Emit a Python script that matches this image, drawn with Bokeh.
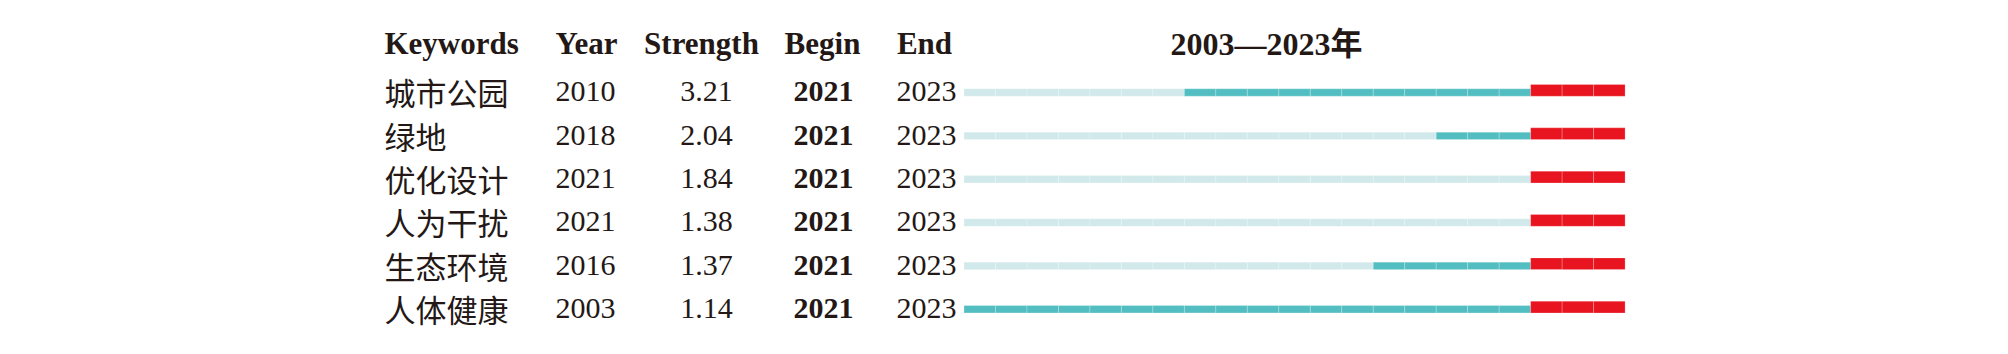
from bokeh.plotting import figure
from bokeh.models import Range1d, ColumnDataSource
from bokeh.core.properties import value
from bokeh.embed import file_html
from bokeh.resources import INLINE

# ---------------- data ----------------
keywords = ["城市公园", "绿地", "优化设计", "人为干扰", "生态环境", "人体健康"]
first_year = [2010, 2018, 2021, 2021, 2016, 2003]
strength = [3.21, 2.04, 1.84, 1.38, 1.37, 1.14]
begin = [2021, 2021, 2021, 2021, 2021, 2021]
end = [2023, 2023, 2023, 2023, 2023, 2023]
span_start, span_end = 2003, 2023
headers = ["Keywords", "Year", "Strength", "Begin", "End"]
title = "2003—2023年"

# ---------------- layout constants ----------------
W, H = 2008, 354
row_step = 43.35          # px between rows
base0 = 102.3             # baseline of first row (px from top)
header_base = 54.3
bar_x0 = 963.5            # px where first year cell starts
cell_w = 31.48            # px per year
text_shift = -11.0 / row_step   # compensate renderer baseline placement

col_kw, col_year, col_str, col_beg, col_end = 384, 555, 706, 823, 926
hdr_str, hdr_beg, hdr_end = 701, 822, 924
title_x = 1266

INK = "#231815"
LIGHT = "#D1E9EA"
TEAL = "#52BEC1"
RED = "#E8141F"
SERIF = value("Liberation Serif")
CJK = value("Noto Sans CJK SC")
MIXED = value("'Liberation Serif', 'Noto Sans CJK SC'")

r_top = -base0 / row_step
r_bot = (H - base0) / row_step

p = figure(width=W, height=H, output_backend="svg", toolbar_location=None,
           x_range=Range1d(0, W), y_range=Range1d(r_bot, r_top),
           x_axis_location=None, y_axis_location=None, min_border=0,
           background_fill_color="white", border_fill_color="white",
           outline_line_color=None, tools="")
p.grid.visible = False

yr0 = span_start - bar_x0 / cell_w
p.extra_x_ranges = {"years": Range1d(yr0, yr0 + W / cell_w)}

# ---------------- bars (one cell per year) ----------------
red_top, red_bot, thin_top = -18.3 / row_step, -6.6 / row_step, -14.0 / row_step
L, R, T, B, C = [], [], [], [], []
for i, fy in enumerate(first_year):
    for y in range(span_start, span_end + 1):
        L.append(y)
        R.append(y + 1)
        B.append(i + red_bot)
        if begin[i] <= y <= end[i]:
            T.append(i + red_top)
            C.append(RED)
        else:
            T.append(i + thin_top)
            C.append(TEAL if y >= fy else LIGHT)
cells = ColumnDataSource(dict(left=L, right=R, top=T, bottom=B, color=C))
p.quad(left="left", right="right", top="top", bottom="bottom", source=cells,
       fill_color="color", line_color="white", line_alpha=0.22, line_width=1,
       x_range_name="years")

# ---------------- headers ----------------
hy = (header_base - base0) / row_step + text_shift
hdr = ColumnDataSource(dict(
    x=[col_kw, col_year, hdr_str, hdr_beg, hdr_end],
    y=[hy] * 5,
    t=headers,
    a=["left", "left", "center", "center", "center"]))
p.text(x="x", y="y", text="t", text_align="a", source=hdr,
       text_font=SERIF, text_font_style="bold", text_font_size="31px",
       text_color=INK, text_baseline="alphabetic")
p.text(x=[title_x], y=[hy], text=[title], text_align="center",
       text_font=MIXED, text_font_style="bold", text_font_size="32px",
       text_color=INK, text_baseline="alphabetic")

# ---------------- rows ----------------
rows = ColumnDataSource(dict(
    r=[i + text_shift for i in range(len(keywords))],
    kw=keywords,
    yr=[str(v) for v in first_year],
    st=[f"{v:.2f}" for v in strength],
    bg=[str(v) for v in begin],
    en=[str(v) for v in end]))
p.text(x=col_kw, y="r", text="kw", source=rows, text_font=CJK,
       text_font_size="31px", text_color=INK, text_baseline="alphabetic",
       text_align="left")
p.text(x=col_year, y="r", text="yr", source=rows, text_font=SERIF,
       text_font_size="30px", text_color=INK, text_baseline="alphabetic",
       text_align="left")
p.text(x=col_str, y="r", text="st", source=rows, text_font=SERIF,
       text_font_size="30px", text_color=INK, text_baseline="alphabetic",
       text_align="center")
p.text(x=col_beg, y="r", text="bg", source=rows, text_font=SERIF,
       text_font_style="bold", text_font_size="30px", text_color=INK,
       text_baseline="alphabetic", text_align="center")
p.text(x=col_end, y="r", text="en", source=rows, text_font=SERIF,
       text_font_size="30px", text_color=INK, text_baseline="alphabetic",
       text_align="center")

open("out.html", "w").write(file_html(p, INLINE))
